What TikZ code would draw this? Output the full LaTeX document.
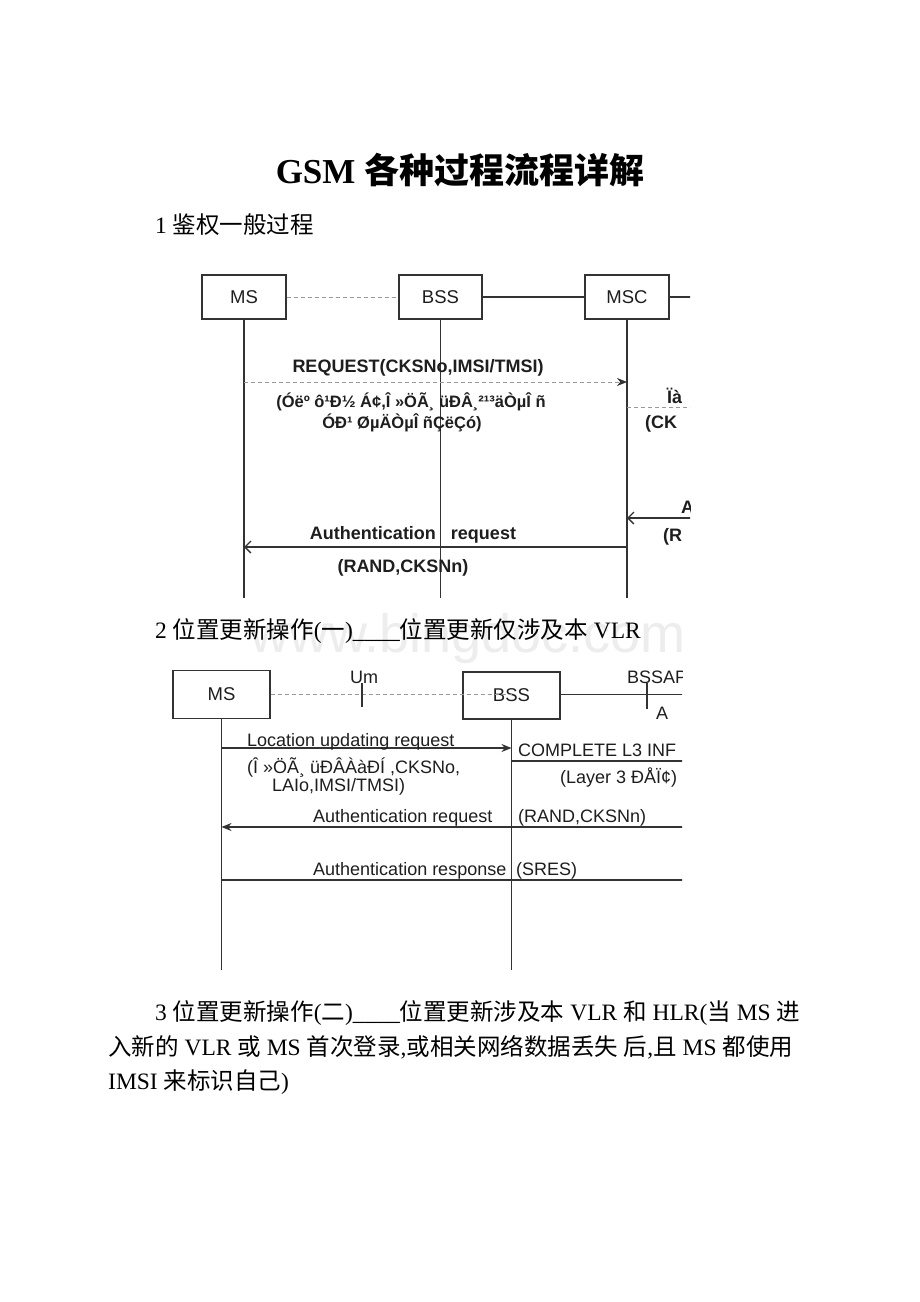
\documentclass[tikz,border=0pt]{standalone}
\usepackage{fontspec}
\setmainfont{Liberation Serif}
\setsansfont{Liberation Sans}
\newfontfamily\cjk{Noto Sans CJK SC}
\usepackage{tikz}
\usetikzlibrary{positioning,arrows.meta}

\definecolor{linec}{HTML}{333333}
\definecolor{txtc}{HTML}{1E1E1E}
\newcommand{\zh}[1]{{\cjk #1}}

\tikzset{
  unit/.style={draw=linec, line width=1.2pt, minimum width=84pt, minimum height=44pt,
    inner sep=0pt, font=\sffamily\fontsize{18.5}{18}\selectfont, text=txtc},
  life/.style={draw=linec, line width=1.3pt},
  air/.style={draw=black!40, line width=1pt, dash pattern=on 4pt off 3pt},
  msgtip/.tip={Stealth[length=10pt,width=8pt,color=linec]},
  msgbarb/.tip={Straight Barb[length=6pt,width=12pt]},
  msg/.style={font=\sffamily\fontsize{18}{22}\selectfont, text=txtc, inner sep=0pt},
  bmsg/.style={msg, font=\sffamily\bfseries\fontsize{18}{22}\selectfont},
  gmsg/.style={msg, font=\sffamily\bfseries\fontsize{16.5}{20}\selectfont},
  para/.style={anchor=base west, inner sep=0pt, text=black, font=\fontsize{23.5}{28}\selectfont},
}

\begin{document}
\begin{tikzpicture}[x=1pt,y=-1pt]
\fill[white] (0,0) rectangle (920,1302);
\useasboundingbox (0,0) rectangle (920,1302);

% watermark behind everything
\node[anchor=base west, inner sep=0pt, font=\sffamily\fontsize{54}{54}\selectfont, text=black!7] (wm) at (250,652) {www.bingdoc.com};

% title and first heading
\node[anchor=base, inner sep=0pt, font=\bfseries\fontsize{35}{40}\selectfont] (title) at (460,183) {GSM \zh{各种过程流程详解}};
\node[para] (sec1) at (155,233) {1 \zh{鉴权一般过程}};

% --- diagram 1: authentication ---
\begin{scope}
\clip (0,250) rectangle (690,610);
 \node[unit] (ms1) at (244,297) {MS};
 \node[unit, minimum width=83pt] (bss1) at (440.5,297) {BSS};
 \node[unit] (msc1) at (627,297) {MSC};
 \coordinate (ms1end) at (244,598);
 \coordinate (bss1end) at (440.5,598);
 \coordinate (msc1end) at (627,598);
 \draw[life] (ms1.south) -- (ms1end);
 \draw[life] (bss1.south) -- (bss1end);
 \draw[life] (msc1.south) -- (msc1end);

 \draw[air] (ms1) -- (bss1); % radio side
 \draw[life] (bss1) -- (msc1);
 \coordinate (cut1a) at (700,297);
 \draw[life] (msc1) -- (cut1a);

 % request towards MSC
 \draw[air, -msgtip] (ms1 |- 0,382) -- (msc1 |- 0,382);
 \node[bmsg] (req1) at (418,368) {REQUEST(CKSNo,IMSI/TMSI)};
 \node[gmsg] (req1a) at (411,402) {(Óëº ô¹Ð½ Á¢,Î »ÖÃ¸ üÐÂ¸²¹³äÒµÎ ñ};
 \node[gmsg] (req1b) at (402,423) {ÓÐ¹ ØµÄÒµÎ ñÇëÇó)};

 % cut-off part on the right
 \coordinate (cut1b) at (700,407);
 \draw[air] (msc1 |- 0,407) -- (cut1b);
 \node[bmsg, anchor=west] (sendlab) at (667,396) {Ïà};
 \node[bmsg, anchor=west] (sendarg) at (645,424) {(CK};
 \coordinate (cut1c) at (700,518);
 \draw[life, msgbarb-] (msc1 |- 0,518) -- (cut1c);
 \node[bmsg, anchor=west] (authlab) at (681,507) {A};
 \node[bmsg, anchor=west] (autharg) at (663,537) {(R};

 % authentication request to MS
 \draw[life, -msgbarb] (msc1 |- 0,547) -- (ms1 |- 0,547);
 \node[bmsg] (areq1) at (413,535) {Authentication\ \ \ request};
 \node[bmsg] (areq1a) at (403,568) {(RAND,CKSNn)};
\end{scope}

% second heading
\node[para] (sec2) at (155,638) {2 \zh{位置更新操作}(\zh{一})\_\_\_\_\zh{位置更新仅涉及本} VLR};

% --- diagram 2: location update, own VLR ---
\begin{scope}
\clip (0,650) rectangle (682,990);
 \node[unit, minimum width=97pt, minimum height=48pt] (ms2) at (221.5,694.5) {MS};
 \node[unit, minimum width=97pt, minimum height=47pt] (bss2) at (511.5,695.5) {BSS};
 \coordinate (ms2end) at (221.5,970);
 \coordinate (bss2end) at (511.5,970);
 \draw[life] (ms2.south) -- (ms2end);
 \draw[life] (bss2.south) -- (bss2end);

 \draw[air] (ms2) -- (bss2 |- ms2);
 \draw[life] (362,683) -- (362,707); % Um tick
 \node[msg] (um) at (364,677) {Um};
 \coordinate (cut2a) at (700,694.5);
 \draw[life] (bss2.east |- ms2) -- (cut2a);
 \draw[life] (647,683) -- (647,709); % A tick
 \node[msg, anchor=west] (bssap) at (627,677) {BSSAP};
 \node[msg] (aif) at (662,713) {A};

 % location updating request
 \draw[life, -msgtip] (ms2 |- 0,748) -- (bss2 |- 0,748);
 \node[msg, anchor=base west] (lur) at (247,746) {Location updating request};
 \node[msg, anchor=west] (lura) at (247,767) {(Î »ÖÃ¸ üÐÂÀàÐÍ ,CKSNo,};
 \node[msg, anchor=west] (lurb) at (272,787) {LAIo,IMSI/TMSI)};
 \coordinate (cut2b) at (700,761);
 \draw[life] (bss2 |- 0,761) -- (cut2b);
 \node[msg, anchor=base west] (cl3) at (518,756) {COMPLETE L3 INF};
 \node[msg, anchor=west] (cl3a) at (560,778) {(Layer 3 ÐÅÏ¢)};

 % authentication
 \coordinate (cut2c) at (700,827);
 \draw[life, msgtip-] (ms2 |- 0,827) -- (cut2c);
 \node[msg, anchor=base west] (areq2) at (313,822) {Authentication request};
 \node[msg, anchor=base west] (areq2a) at (518,822) {(RAND,CKSNn)};
 \coordinate (cut2d) at (700,880);
 \draw[life] (ms2 |- 0,880) -- (cut2d);
 \node[msg, anchor=base west] (ares2) at (313,875) {Authentication response};
 \node[msg, anchor=base west] (ares2a) at (516,875) {(SRES)};
\end{scope}

% third heading, three lines
\node[para] (sec3a) at (155,1020) {3 \zh{位置更新操作}(\zh{二})\_\_\_\_\zh{位置更新涉及本} VLR \zh{和} HLR(\zh{当} MS \zh{进}};
\node[para] (sec3b) at (108,1055) {\zh{入新的} VLR \zh{或} MS \zh{首次登录},\zh{或相关网络数据丢失} \zh{后},\zh{且} MS \zh{都使用}};
\node[para] (sec3c) at (108,1089) {IMSI \zh{来标识自己})};

\end{tikzpicture}
\end{document}
